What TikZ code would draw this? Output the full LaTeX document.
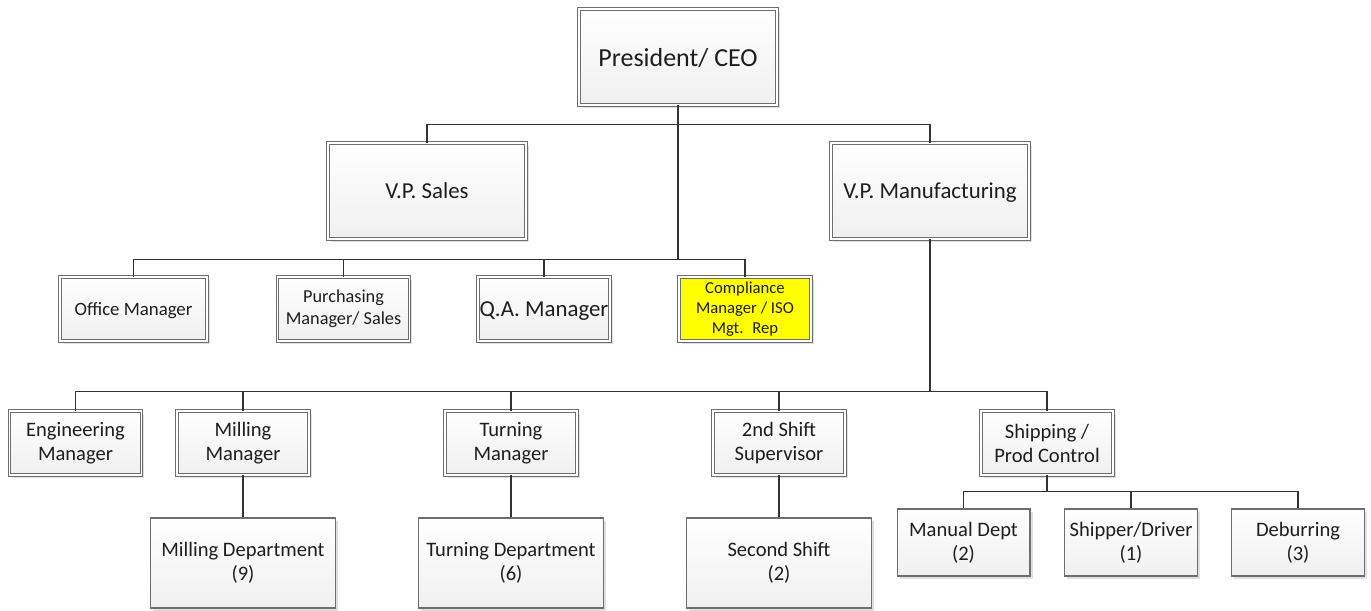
\documentclass[tikz,border=0pt]{standalone}
\usepackage{fontspec}
\setmainfont{Carlito}
\usetikzlibrary{shadows}
\definecolor{boxline}{HTML}{6E6E6E}
\definecolor{linkcol}{HTML}{333333}
\definecolor{txt}{HTML}{1E1E1E}

\begin{document}
\begin{tikzpicture}[x=0.02cm, y=-0.02cm,
  mgr/.style={draw=boxline, double=white, double distance=1.1pt, line width=0.5pt,
    top color=white, bottom color=gray!12, text=txt, align=center, inner sep=1pt,
    drop shadow={shadow xshift=1.5pt, shadow yshift=-1.5pt, fill=gray!60, opacity=0.4}},
  dept/.style={draw=boxline, line width=0.6pt, top color=white, bottom color=gray!12,
    text=txt, align=center, inner sep=1pt,
    drop shadow={shadow xshift=1.5pt, shadow yshift=-1.5pt, fill=gray!60, opacity=0.4}},
  hl/.style={mgr, top color=yellow, bottom color=yellow},
  link/.style={draw=linkcol, line width=0.8pt}]
\useasboundingbox (0,0) rectangle (1371,611);

% top levels
\node (ceo) at (678,57) [mgr, text depth=0pt, minimum width=3.96cm, minimum height=1.92cm, font=\fontsize{14.8}{17}\selectfont] {President/ CEO};
\node (vps) at (427,191) [mgr, text depth=0pt, minimum width=3.96cm, minimum height=1.92cm, font=\fontsize{13}{15}\selectfont] {V.P. Sales};
\node (vpm) at (930,191) [mgr, text depth=0pt, minimum width=3.96cm, minimum height=1.92cm, font=\fontsize{13}{15}\selectfont] {V.P. Manufacturing};

% staff under the CEO
\node (office) at (133.5,309) [mgr, text depth=0pt, minimum width=2.94cm, minimum height=1.28cm, font=\fontsize{10.7}{13}\selectfont] {Office Manager};
\node (purch) at (343.5,309) [mgr, minimum width=2.64cm, minimum height=1.28cm, font=\fontsize{10.4}{12.5}\selectfont] {Purchasing\\Manager/ Sales};
\node (qa) at (544,309) [mgr, text depth=0pt, minimum width=2.64cm, minimum height=1.28cm, font=\fontsize{13}{15}\selectfont] {Q.A. Manager};
\node (iso) at (745,309) [hl, minimum width=2.64cm, minimum height=1.28cm, font=\fontsize{9.5}{11.3}\selectfont] {Compliance\\Manager / ISO\\Mgt.~ Rep};

% managers under manufacturing
\node (eng) at (75.5,443) [mgr, minimum width=2.64cm, minimum height=1.28cm, font=\fontsize{11.7}{13.6}\selectfont] {Engineering\\Manager};
\node (mill) at (243,443) [mgr, minimum width=2.64cm, minimum height=1.28cm, font=\fontsize{11.7}{13.6}\selectfont] {Milling\\Manager};
\node (turn) at (511,443) [mgr, minimum width=2.64cm, minimum height=1.28cm, font=\fontsize{11.7}{13.6}\selectfont] {Turning\\Manager};
\node (shift) at (779,443) [mgr, minimum width=2.64cm, minimum height=1.28cm, font=\fontsize{11.7}{13.6}\selectfont] {2nd Shift\\Supervisor};
\node (ship) at (1047,443) [mgr, minimum width=2.64cm, minimum height=1.28cm, font=\fontsize{11.7}{13.6}\selectfont] {Shipping /\\Prod Control};

% departments
\node (milldep) at (243,563) [dept, minimum width=3.7cm, minimum height=1.8cm, font=\fontsize{11.7}{13.6}\selectfont] {Milling Department\\(9)};
\node (turndep) at (511,563) [dept, minimum width=3.7cm, minimum height=1.8cm, font=\fontsize{11.7}{13.6}\selectfont] {Turning Department\\(6)};
\node (second) at (779,563) [dept, minimum width=3.7cm, minimum height=1.8cm, font=\fontsize{11.7}{13.6}\selectfont] {Second Shift\\(2)};
\node (manual) at (963.5,542.5) [dept, minimum width=2.66cm, minimum height=1.34cm, font=\fontsize{11.7}{13.6}\selectfont] {Manual Dept\\(2)};
\node (shipper) at (1131,542.5) [dept, minimum width=2.66cm, minimum height=1.34cm, font=\fontsize{11.7}{13.6}\selectfont] {Shipper/Driver\\(1)};
\node (deburr) at (1298,542.5) [dept, minimum width=2.66cm, minimum height=1.34cm, font=\fontsize{11.7}{13.6}\selectfont] {Deburring\\(3)};

\draw[link] (ceo.south) -- ++(0,19) -| (vps.north);
\draw[link] (ceo.south) -- ++(0,19) -| (vpm.north);
\draw[link] (ceo.south) -- ++(0,154) -| (office.north);
\draw[link] (ceo.south) -- ++(0,154) -| (purch.north);
\draw[link] (ceo.south) -- ++(0,154) -| (qa.north);
\draw[link] (ceo.south) -- ++(0,154) -| (iso.north);

\draw[link] (vpm.south) -- ++(0,152) -| (eng.north);
\draw[link] (vpm.south) -- ++(0,152) -| (mill.north);
\draw[link] (vpm.south) -- ++(0,152) -| (turn.north);
\draw[link] (vpm.south) -- ++(0,152) -| (shift.north);
\draw[link] (vpm.south) -- ++(0,152) -| (ship.north);

\draw[link] (mill.south) -- (milldep.north);
\draw[link] (turn.south) -- (turndep.north);
\draw[link] (shift.south) -- (second.north);

\draw[link] (ship.south) -- ++(0,16) -| (manual.north);
\draw[link] (ship.south) -- ++(0,16) -| (shipper.north);
\draw[link] (ship.south) -- ++(0,16) -| (deburr.north);
\end{tikzpicture}
\end{document}
